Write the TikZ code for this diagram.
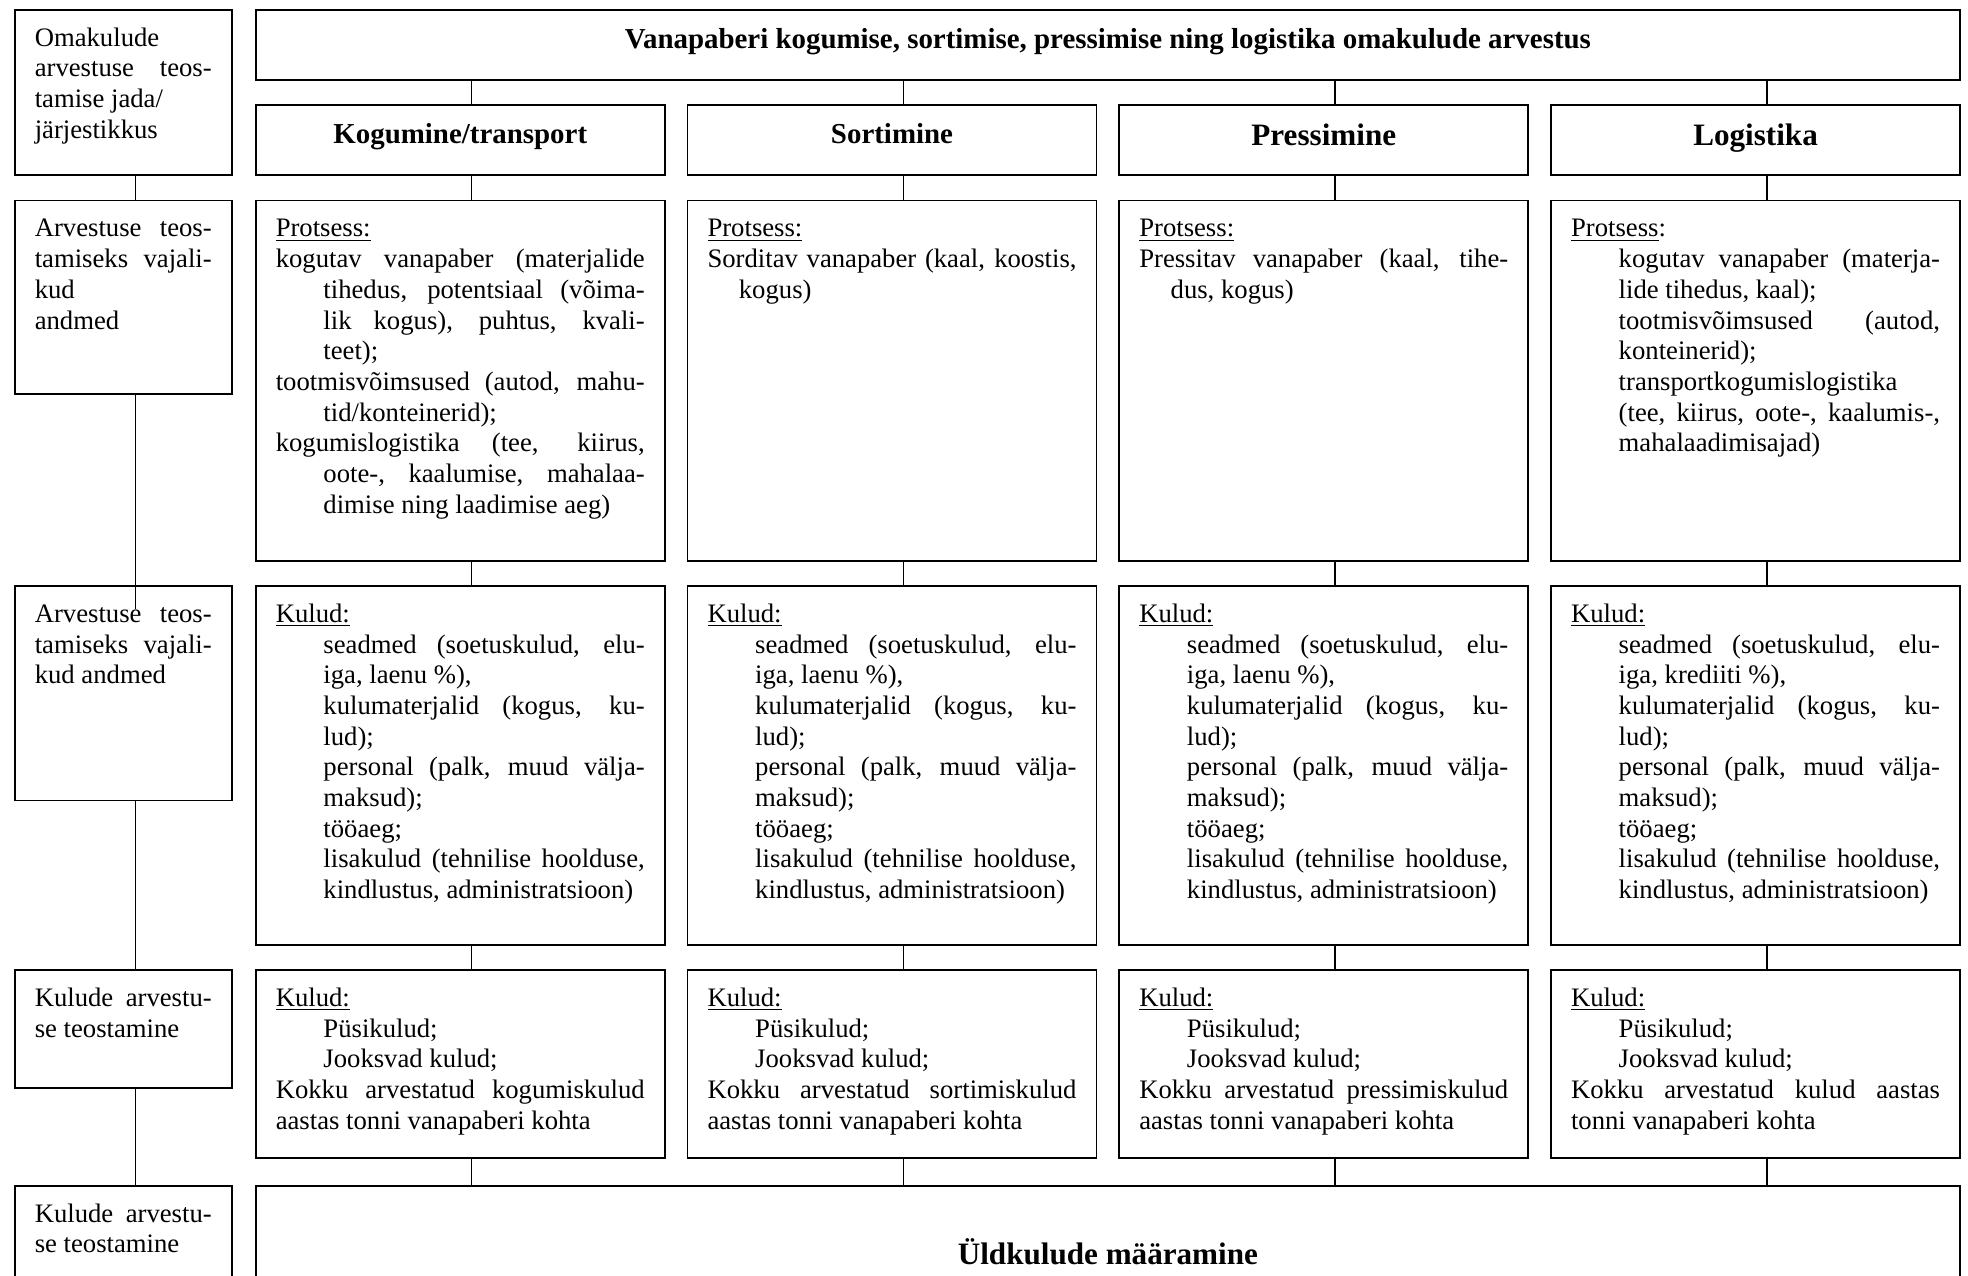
\documentclass[tikz,border=0pt]{standalone}
\usepackage{fontspec}
\setmainfont{Liberation Serif}
\usetikzlibrary{positioning}

\hyphenpenalty=10000
\tolerance=10000
\hbadness=10000
\vbadness=10000

\newlength{\ux}\setlength{\ux}{0.01983cm}
% box text: height, width, text (top aligned)
\newcommand{\cellbox}[3]{\parbox[t][#1\ux][t]{#2\ux}{\strut#3}}
\newcommand{\kuludtext}[1]{\underline{Kulud:}\par
  {\leftskip=38\ux seadmed (soetuskulud, elu-\linebreak iga, #1 \%),\\
  kulumaterjalid (kogus, ku-\linebreak lud);\\
  personal (palk, muud välja-\linebreak maksud);\\
  tööaeg;\\
  lisakulud (tehnilise hoolduse,\linebreak kindlustus, administratsioon)\par}}
\newcommand{\kokkutext}[1]{\underline{Kulud:}\par
  {\leftskip=38\ux Püsikulud;\\ Jooksvad kulud;\par}
  #1}

\begin{document}
\begin{tikzpicture}[x=0.01983cm, y=-0.01983cm, node distance=344\ux]
		\tikzstyle{cell}=[draw, line width=0.8pt, inner xsep=16\ux, inner ysep=12\ux, anchor=north west, font=\fontsize{12}{13.8}\selectfont]
		\tikzstyle{head}=[cell, font=\fontsize{13}{14.95}\selectfont\bfseries]
		\tikzstyle{bighead}=[head, font=\fontsize{14}{16.1}\selectfont\bfseries]
		\tikzstyle{link}=[line width=0.6pt]
		\useasboundingbox (0,0) rectangle (1568,1016);
		\clip (0,0) rectangle (1568,1016);

		% left column
		\node[cell] (lA) at (11,7)   {\cellbox{108}{141}{Omakulude\\ arvestuse teos-\linebreak tamise jada/\\ järjestikkus}};
		\node[cell] (lB) at (11,159) {\cellbox{130}{141}{Arvestuse teos-\linebreak tamiseks vajali-\linebreak kud\\ andmed}};
		\node[cell] (lC) at (11,466) {\cellbox{147}{141}{Arvestuse teos-\linebreak tamiseks vajali-\linebreak kud andmed}};
		\node[cell] (lD) at (11,772) {\cellbox{70}{141}{Kulude arvestu-\linebreak se teostamine}};
		\node[cell] (lE) at (11,944) {\cellbox{96}{141}{Kulude arvestu-\linebreak se teostamine}};

		% title and headers
		\node[head] (top) at (203,7) {\cellbox{32}{1326}{\centering Vanapaberi kogumise, sortimise, pressimise ning logistika omakulude arvestus}};
		\node[head]    (hK) at (203,83)   {\cellbox{32}{294}{\centering Kogumine/transport}};
		\node[head]    (hS)[right of=hK]  {\cellbox{32}{294}{\centering Sortimine}};
		\node[bighead] (hP)[right of=hS]  {\cellbox{32}{294}{\centering Pressimine}};
		\node[bighead] (hL)[right of=hP]  {\cellbox{32}{294}{\centering Logistika}};

		% process
		\node[cell] (pK) at (203,159) {\cellbox{263}{294}{\underline{Protsess:}\par
			\hangindent=38\ux kogutav vanapaber (materjalide\linebreak tihedus, potentsiaal (võima-\linebreak lik kogus), puhtus, kvali-\linebreak teet);\par
			\hangindent=38\ux tootmisvõimsused (autod, mahu-\linebreak tid/konteinerid);\par
			\hangindent=38\ux kogumislogistika (tee, kiirus,\linebreak oote-, kaalumise, mahalaa-\linebreak dimise ning laadimise aeg)}};
		\node[cell] (pS)[right of=pK] {\cellbox{263}{294}{\underline{Protsess:}\par
			\hangindent=25\ux Sorditav vanapaber (kaal, koostis,\linebreak kogus)}};
		\node[cell] (pP)[right of=pS] {\cellbox{263}{294}{\underline{Protsess:}\par
			\hangindent=25\ux Pressitav vanapaber (kaal, tihe-\linebreak dus, kogus)}};
		\node[cell] (pL)[right of=pP] {\cellbox{263}{294}{\underline{Protsess}:\par
			{\leftskip=38\ux kogutav vanapaber (materja-\linebreak lide tihedus, kaal);\\
			tootmisvõimsused (autod,\linebreak konteinerid);\\
			transportkogumislogistika\\
			(tee, kiirus, oote-, kaalumis-,\linebreak mahalaadimisajad)\par}}};

		% costs
		\node[cell] (kK) at (203,466) {\cellbox{262}{294}{\kuludtext{laenu}}};
		\node[cell] (kS)[right of=kK] {\cellbox{262}{294}{\kuludtext{laenu}}};
		\node[cell] (kP)[right of=kS] {\cellbox{262}{294}{\kuludtext{laenu}}};
		\node[cell] (kL)[right of=kP] {\cellbox{262}{294}{\kuludtext{krediiti}}};

		% totals per step
		\node[cell] (sK) at (203,772) {\cellbox{126}{294}{\kokkutext{Kokku arvestatud kogumiskulud\linebreak aastas tonni vanapaberi kohta}}};
		\node[cell] (sS)[right of=sK] {\cellbox{126}{294}{\kokkutext{Kokku arvestatud sortimiskulud\linebreak aastas tonni vanapaberi kohta}}};
		\node[cell] (sP)[right of=sS] {\cellbox{126}{294}{\kokkutext{Kokku arvestatud pressimiskulud\linebreak aastas tonni vanapaberi kohta}}};
		\node[cell] (sL)[right of=sP] {\cellbox{126}{294}{\kokkutext{Kokku arvestatud kulud aastas\linebreak tonni vanapaberi kohta}}};

		\node[bighead] (total) at (203,944) {\cellbox{92}{1326}{\centering\\ Üldkulude määramine}};

		% connectors
		\draw[link] ([xshift=10\ux]lA.south) -- ([xshift=10\ux]lB.north);
		\draw[link] ([xshift=10\ux]lB.south) -- ([xshift=10\ux,yshift=-19\ux]lC.north);
		\draw[link] ([xshift=10\ux]lC.south) -- ([xshift=10\ux]lD.north);
		\draw[link] ([xshift=10\ux]lD.south) -- ([xshift=10\ux]lE.north);
		\foreach \col in {K,S,P,L}{
			\path ([xshift=9\ux]h\col.north) coordinate (a\col)
			      ([xshift=9\ux]s\col.south) coordinate (b\col);
			\draw[link] (a\col |- top.south) -- (a\col);
			\draw[link] ([xshift=9\ux]h\col.south) -- ([xshift=9\ux]p\col.north);
			\draw[link] ([xshift=9\ux]p\col.south) -- ([xshift=9\ux]k\col.north);
			\draw[link] ([xshift=9\ux]k\col.south) -- ([xshift=9\ux]s\col.north);
			\draw[link] (b\col) -- (b\col |- total.north);
		}
	\end{tikzpicture}
\end{document}
